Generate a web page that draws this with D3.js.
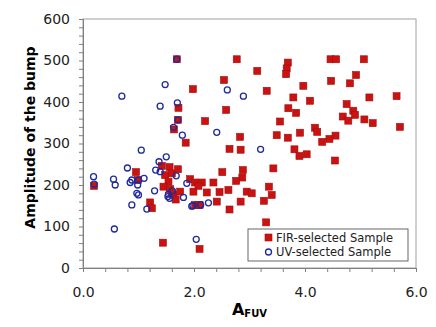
<!DOCTYPE html>
<html>
<head>
<meta charset="utf-8">
<script src="https://cdn.jsdelivr.net/npm/d3@7"></script>
<style>
  body { margin: 0; background: #fff; }
  text { font-family: "DejaVu Sans", Verdana, sans-serif; }
</style>
</head>
<body>
<script>
const width = 436;
const height = 327;

// FIR-selected sample: A_FUV and bump amplitude
const firAfuv = [0.20, 0.955, 0.99, 1.21, 1.24, 1.44, 1.42, 1.48, 1.54, 1.45, 1.57, 1.56, 1.60, 1.71,
  1.63, 1.67, 1.75, 1.93, 2.02, 1.99, 2.08, 2.10, 1.69, 1.72, 1.71, 1.64, 1.85, 1.98,
  2.77, 3.69, 3.67, 3.66, 3.14, 2.54, 3.31, 3.97, 3.79, 4.09, 2.58, 3.70, 3.84, 2.20,
  3.55, 2.83, 3.49, 3.69, 3.91, 2.64, 2.84, 3.81, 3.90, 4.03, 3.43, 2.51, 2.88, 2.87,
  2.76, 2.35, 2.14, 2.08, 3.35, 2.62, 2.46, 2.23, 2.95, 3.04, 3.40, 3.26, 2.84, 2.41,
  2.02, 2.10, 2.64, 3.30, 4.46, 4.56, 5.06, 4.92, 4.47, 4.81, 5.16, 5.65, 4.75, 4.87,
  4.90, 4.68, 4.78, 5.07, 5.22, 5.71, 4.18, 4.22, 4.55, 4.44, 4.31, 4.54, 1.60];
const firAmp = [198, 231, 212, 158, 144, 61, 246, 224, 208, 196, 190, 243, 228, 238,
  176, 165, 184, 214, 206, 184, 152, 46, 503, 386, 357, 334, 302, 431,
  503, 495, 481, 467, 475, 453, 427, 439, 411, 403, 381, 385, 374, 354,
  353, 316, 320, 314, 326, 287, 285, 286, 270, 274, 240, 231, 236, 218,
  210, 206, 206, 198, 196, 188, 183, 182, 184, 180, 176, 162, 160, 160,
  152, 152, 141, 110, 503, 503, 503, 465, 451, 445, 411, 414, 395, 379,
  369, 365, 355, 358, 349, 340, 338, 328, 319, 311, 304, 259, 180];

// UV-selected sample
const uvAfuv = [1.69, 1.48, 0.70, 1.39, 1.70, 1.63, 1.79, 1.05, 1.50, 1.37, 0.80, 1.31, 1.39,
  0.19, 0.55, 1.68, 1.10, 1.00, 0.88, 0.85, 0.985, 0.58, 0.20, 1.87, 1.29, 0.97, 1.00,
  1.54, 1.61, 1.53, 1.56, 1.81, 0.88, 1.15, 1.96, 0.565, 2.04, 2.60, 2.89, 2.41, 3.20,
  2.26, 1.98, 2.12, 1.71];
const uvAmp = [503, 442, 414, 390, 398, 339, 320, 284, 268, 256, 241, 236, 232,
  220, 214, 222, 216, 212, 212, 206, 200, 200, 202, 204, 186, 180, 176,
  178, 186, 172, 168, 170, 152, 142, 149, 94, 69, 429, 414, 327, 286,
  157, 150, 152, 357];

const xMajor = [0, 2, 4, 6];
const yMajor = [0, 100, 200, 300, 400, 500, 600];
const seriesNames = ["FIR-selected Sample", "UV-selected Sample"];

const svg = d3.select("body").append("svg")
  .attr("width", width)
  .attr("height", height);

const x = d3.scaleLinear().domain([0, 6]).range([83, 416]);
const y = d3.scaleLinear().domain([0, 600]).range([268, 19]);

// plot frame
svg.append("rect")
  .attr("x", x(0)).attr("y", y(600))
  .attr("width", x(6) - x(0)).attr("height", y(0) - y(600))
  .attr("fill", "none")
  .attr("stroke", "#a0a0a0")
  .attr("stroke-width", 1);

// minor ticks
svg.append("g")
  .attr("transform", `translate(0,${y(0)})`)
  .call(d3.axisBottom(x).tickValues(d3.range(0, 6.01, 0.4)).tickSize(4).tickFormat(""))
  .call(g => g.selectAll("line, path").attr("stroke", "#808080"));

svg.append("g")
  .attr("transform", `translate(${x(0)},0)`)
  .call(d3.axisLeft(y).tickValues(d3.range(0, 601, 20)).tickSize(4).tickFormat(""))
  .call(g => g.selectAll("line, path").attr("stroke", "#808080"));

// major labels
svg.append("g")
  .attr("transform", `translate(0,${y(0)})`)
  .call(d3.axisBottom(x).tickValues(xMajor).tickSize(0).tickPadding(19).tickFormat(d3.format(".1f")))
  .call(g => g.select(".domain").remove())
  .call(g => g.selectAll("text").attr("font-size", 14).attr("fill", "#222").attr("font-family", "DejaVu Sans"));

svg.append("g")
  .attr("transform", `translate(${x(0)},0)`)
  .call(d3.axisLeft(y).tickValues(yMajor).tickSize(0).tickPadding(13))
  .call(g => g.select(".domain").remove())
  .call(g => g.selectAll("text").attr("font-size", 14).attr("fill", "#222").attr("font-family", "DejaVu Sans"));

// axis titles
svg.append("text")
  .attr("transform", `translate(35,${(y(0) + y(600)) / 2 - 6}) rotate(-90)`)
  .attr("text-anchor", "middle")
  .style("font-size", "14px")
  .style("font-weight", "bold")
  .text("Amplitude of the bump");

const xt = svg.append("text")
  .attr("x", (x(0) + x(6)) / 2)
  .attr("y", 315)
  .attr("text-anchor", "middle")
  .style("font-weight", "bold");
xt.append("tspan").style("font-size", "16px").text("A");
xt.append("tspan").style("font-size", "10px").attr("dy", 2).text("FUV");

// FIR squares
const sq = 7;
svg.append("g")
  .selectAll("rect")
  .data(firAfuv.map((d, i) => [d, firAmp[i]]))
  .enter()
  .append("rect")
  .attr("x", d => x(d[0]) - sq / 2)
  .attr("y", d => y(d[1]) - sq / 2)
  .attr("width", sq)
  .attr("height", sq)
  .attr("fill", "#cc1111")
  .attr("stroke", "#a01010")
  .attr("stroke-width", 0.6);

// UV circles
svg.append("g")
  .selectAll("circle")
  .data(uvAfuv.map((d, i) => [d, uvAmp[i]]))
  .enter()
  .append("circle")
  .attr("cx", d => x(d[0]))
  .attr("cy", d => y(d[1]))
  .attr("r", 3)
  .attr("fill", "none")
  .attr("stroke", "#1f2a9c")
  .attr("stroke-width", 1.3);

// legend
const legend = svg.append("g").attr("transform", "translate(248,229)");
legend.append("rect")
  .attr("width", 160).attr("height", 32)
  .attr("fill", "#fff")
  .attr("stroke", "#666")
  .attr("stroke-width", 1);
legend.append("rect")
  .attr("x", 17).attr("y", 5).attr("width", sq).attr("height", sq)
  .attr("fill", "#cc1111").attr("stroke", "#a01010").attr("stroke-width", 0.6);
legend.append("circle")
  .attr("cx", 20.5).attr("cy", 23).attr("r", 3)
  .attr("fill", "none").attr("stroke", "#1f2a9c").attr("stroke-width", 1.3);
legend.selectAll("text.lg")
  .data(seriesNames)
  .enter()
  .append("text")
  .attr("class", "lg")
  .attr("x", 28)
  .attr("y", (d, i) => 13 + i * 14)
  .style("font-size", "11.5px")
  .attr("fill", "#222")
  .text(d => d);
</script>
</body>
</html>
